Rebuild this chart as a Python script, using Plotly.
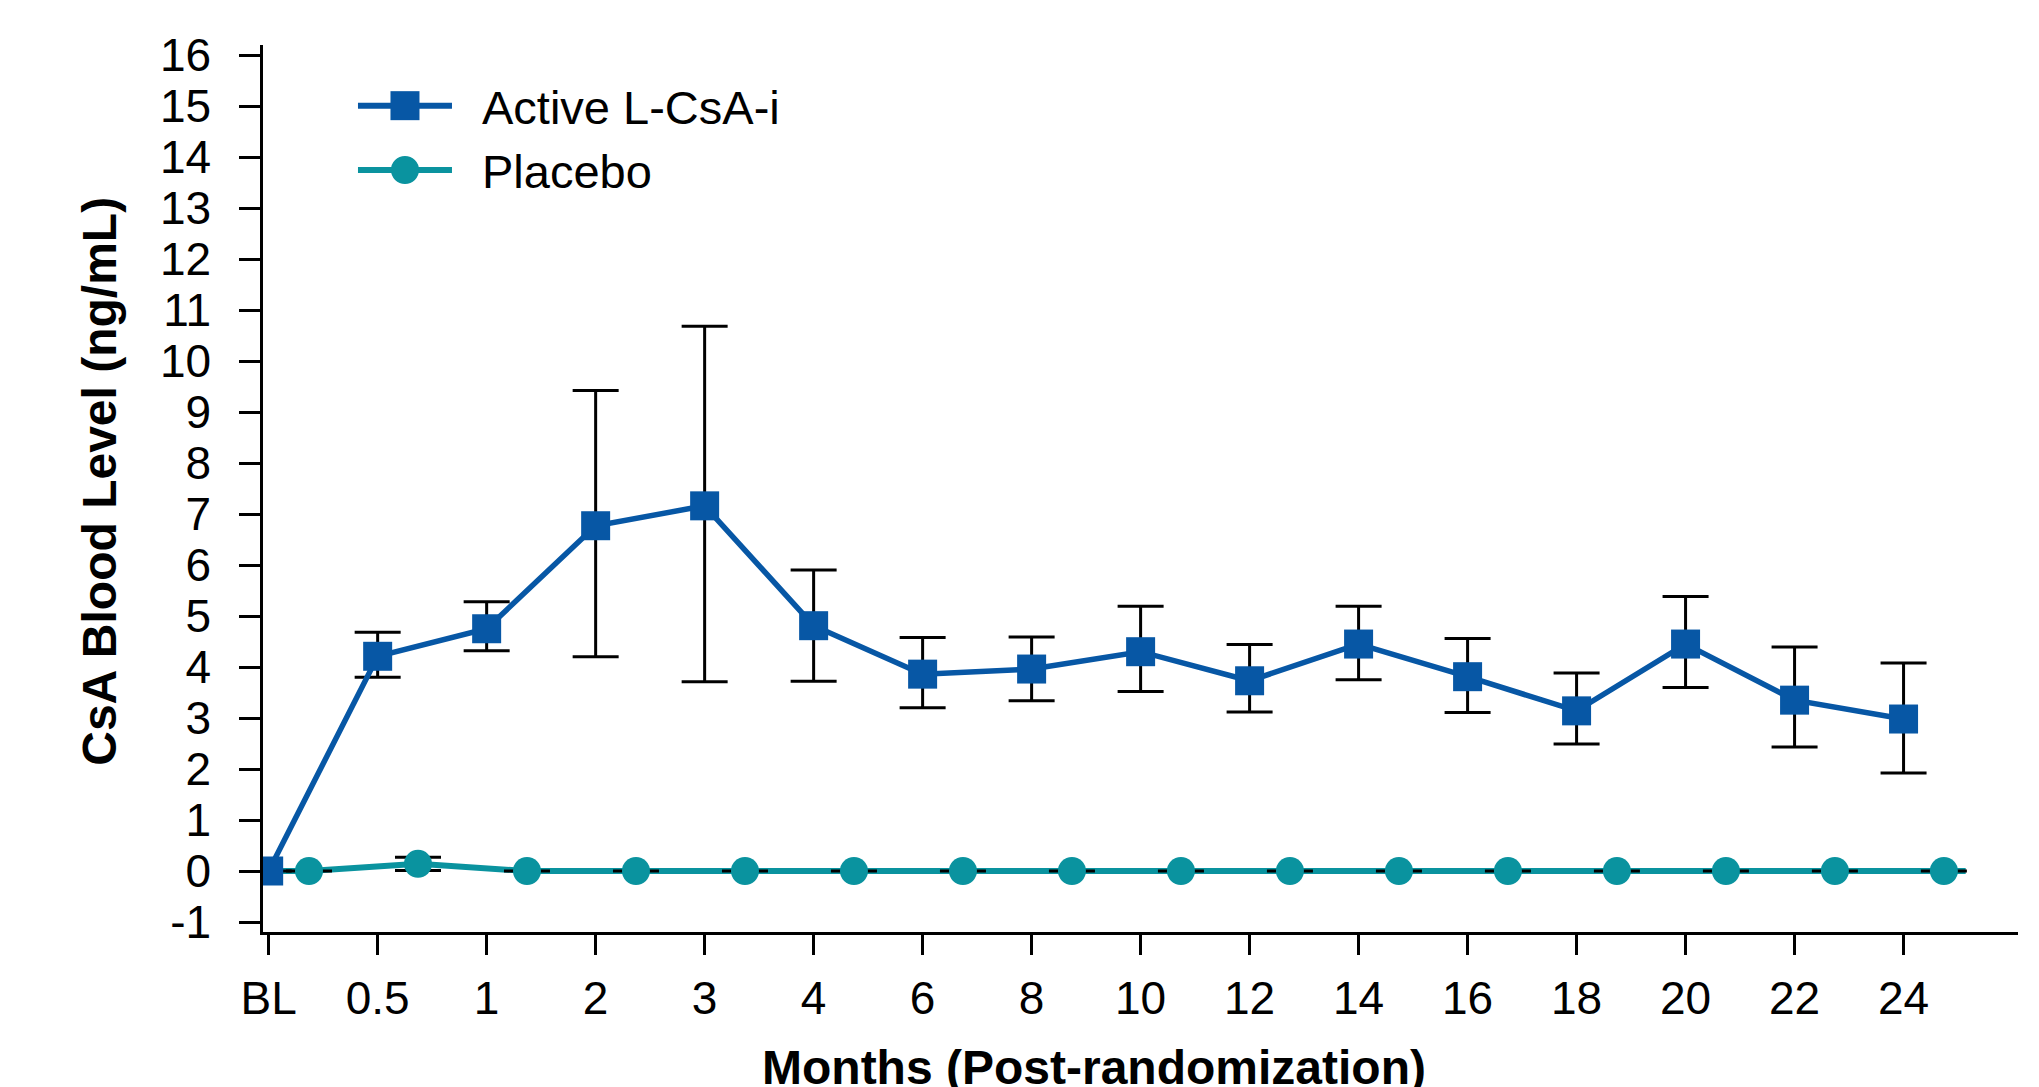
import plotly.graph_objects as go

# Visit labels along the x axis
visits = ["BL", "0.5", "1", "2", "3", "4", "6", "8", "10", "12", "14", "16", "18", "20", "22", "24"]

# Y tick values and their labels (plain hyphen for negatives)
y_ticks = list(range(-1, 17))
y_tick_text = [str(v) for v in y_ticks]

# Active L-CsA-i: mean CsA blood level (ng/mL) with upper / lower error
active_mean = [0.0, 4.21, 4.75, 6.77, 7.16, 4.81, 3.86, 3.96, 4.30, 3.73, 4.45, 3.81, 3.14, 4.45, 3.35, 2.98]
active_err_up = [0.0, 0.47, 0.53, 2.65, 3.52, 1.09, 0.72, 0.63, 0.89, 0.71, 0.74, 0.75, 0.74, 0.93, 1.04, 1.10]
active_err_dn = [0.0, 0.41, 0.43, 2.57, 3.45, 1.09, 0.66, 0.62, 0.78, 0.61, 0.70, 0.70, 0.65, 0.85, 0.92, 1.06]

# Placebo: mean CsA blood level (ng/mL) with error
placebo_mean = [0.0, 0.14, 0.0, 0.0, 0.0, 0.0, 0.0, 0.0, 0.0, 0.0, 0.0, 0.0, 0.0, 0.0, 0.0, 0.0]
placebo_err = [0.0, 0.13, 0.0, 0.0, 0.0, 0.0, 0.0, 0.0, 0.0, 0.0, 0.0, 0.0, 0.0, 0.0, 0.0, 0.0]

BLUE = "#0757a5"
TEAL = "#0a939f"
FONT = "Arial, 'Liberation Sans', Helvetica, sans-serif"

# Placebo points are dodged to the right of each visit
DODGE = 0.37
TAIL = 0.2
pos = list(range(len(visits)))
placebo_x = [p + DODGE for p in pos]

fig = go.Figure()

# Placebo connecting line (starts at baseline, runs slightly past the last visit)
fig.add_trace(go.Scatter(
    x=[pos[0]] + placebo_x + [placebo_x[-1] + TAIL],
    y=[placebo_mean[0]] + placebo_mean + [placebo_mean[-1]],
    mode="lines", line=dict(color=TEAL, width=6),
    hoverinfo="skip", showlegend=False,
))

# Placebo markers with error bars
fig.add_trace(go.Scatter(
    x=placebo_x, y=placebo_mean, mode="markers", name="Placebo",
    marker=dict(symbol="circle", size=28, color=TEAL),
    error_y=dict(type="data", array=placebo_err, color="black", thickness=3, width=23),
    showlegend=False,
))

# Active L-CsA-i line, markers and error bars
fig.add_trace(go.Scatter(
    x=pos, y=active_mean, mode="lines+markers", name="Active L-CsA-i",
    line=dict(color=BLUE, width=5.5),
    marker=dict(symbol="square", size=29, color=BLUE),
    error_y=dict(type="data", symmetric=False, array=active_err_up,
                 arrayminus=active_err_dn, color="black", thickness=3, width=23),
    showlegend=False,
))

# Hand-built legend: long line sample with marker in the middle
legend_rows = [("Active L-CsA-i", BLUE, "rect", 0.9316, 29),
               ("Placebo", TEAL, "circle", 0.8591, 28)]
shapes = []
annotations = []
for label, color, kind, ypos, msize in legend_rows:
    shapes.append(dict(type="line", xref="paper", yref="paper",
                       xsizemode="pixel", xanchor=0.0809, x0=-47, x1=47,
                       y0=ypos, y1=ypos, line=dict(color=color, width=6)))
    h = msize / 2
    shapes.append(dict(type=kind, xref="paper", yref="paper",
                       xsizemode="pixel", ysizemode="pixel",
                       xanchor=0.0809, yanchor=ypos,
                       x0=-h, x1=h, y0=-h, y1=h,
                       fillcolor=color, line=dict(width=0)))
    annotations.append(dict(text=label, xref="paper", yref="paper",
                            x=0.1236, y=ypos - 0.0015, xanchor="left", yanchor="middle",
                            showarrow=False, font=dict(size=47, color="black", family=FONT)))

# Axis titles
annotations.append(dict(text="<b>CsA Blood Level (ng/mL)</b>", xref="paper", yref="paper",
                        x=-0.093, y=0.5085, xanchor="center", yanchor="middle",
                        textangle=-90, showarrow=False,
                        font=dict(size=48, color="black", family=FONT)))
annotations.append(dict(text="<b>Months (Post-randomization)</b>", xref="paper", yref="paper",
                        x=0.4733, y=-0.1527, xanchor="center", yanchor="middle",
                        showarrow=False,
                        font=dict(size=48, color="black", family=FONT)))

fig.update_layout(
    width=2039, height=1087,
    margin=dict(l=263, r=21, t=45, b=155, pad=0),
    paper_bgcolor="white", plot_bgcolor="white",
    font=dict(family=FONT, color="black"),
    shapes=shapes, annotations=annotations,
    showlegend=False,
)

fig.update_xaxes(
    range=[-0.052, 16.05], tickmode="array", tickvals=pos, ticktext=visits,
    showgrid=False, zeroline=False, showline=True, linecolor="black", linewidth=2.5,
    ticks="outside", ticklen=20, tickwidth=2.5, tickcolor="black",
    tickfont=dict(size=46, color="black", family=FONT), ticklabelstandoff=4,
)
fig.update_yaxes(
    range=[-1.196, 16.196], tickmode="array", tickvals=y_ticks, ticktext=y_tick_text,
    showgrid=False, zeroline=False, showline=True, linecolor="black", linewidth=2.5,
    ticks="outside", ticklen=21, tickwidth=2.5, tickcolor="black",
    tickfont=dict(size=46, color="black", family=FONT), ticklabelstandoff=19,
)

fig.write_html("out.html")
